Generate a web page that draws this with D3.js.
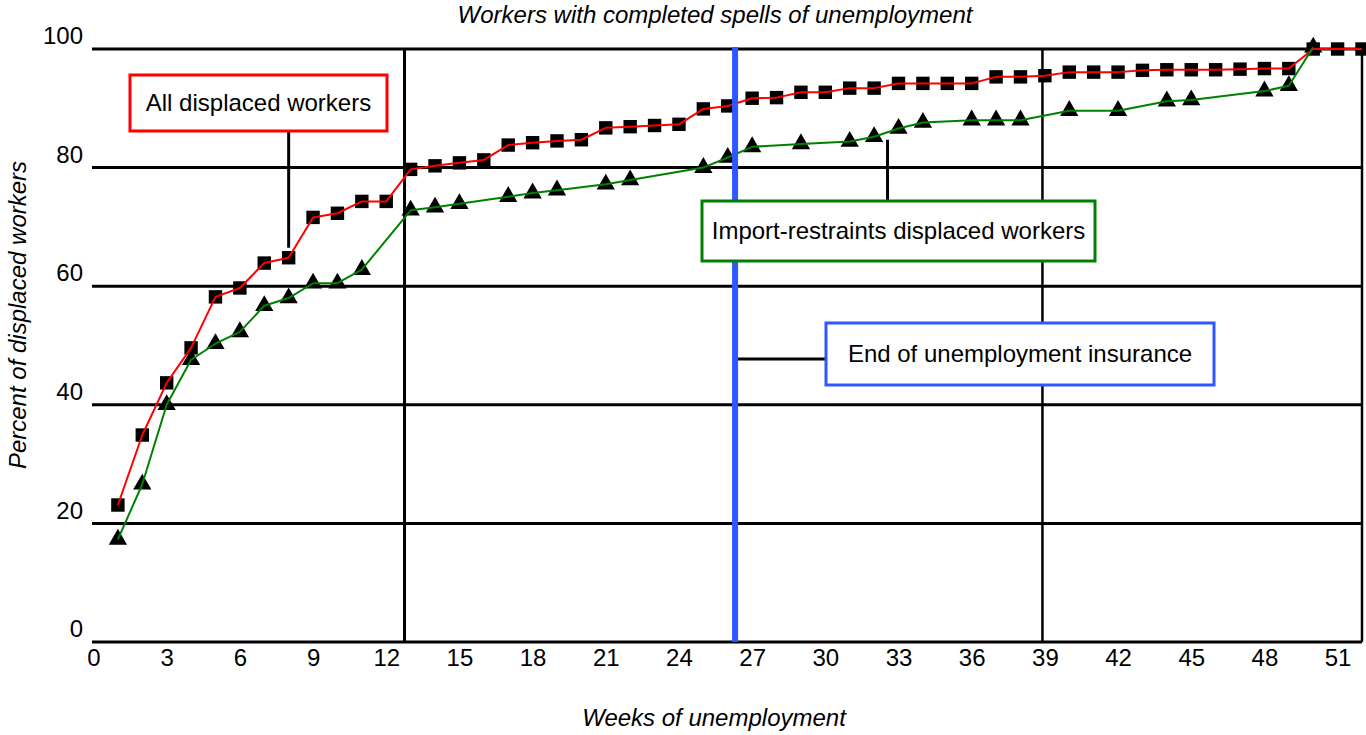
<!DOCTYPE html>
<html>
<head>
<meta charset="utf-8">
<script src="https://cdn.jsdelivr.net/npm/d3@7"></script>
<style>
  body { margin: 0; background: #fff; }
  svg { display: block; font-family: "Liberation Sans", Arial, Helvetica, sans-serif; }
</style>
</head>
<body>
<svg id="chart" width="1366" height="735"></svg>
<script>
// All displaced workers, cumulative percent by week
const allWeeks = [1, 2, 3, 4, 5, 6, 7, 8, 9, 10, 11, 12, 13, 14, 15, 16, 17, 18, 19, 20, 21, 22, 23, 24, 25, 26,
    27, 28, 29, 30, 31, 32, 33, 34, 35, 36, 37, 38, 39, 40, 41, 42, 43, 44, 45, 46, 47, 48, 49, 50, 51, 52];
const allValues = [23.1, 34.9, 43.7, 49.6, 58.2, 59.7, 63.9, 64.8, 71.6, 72.3, 74.3, 74.3, 79.7, 80.3, 80.8, 81.3,
    83.8, 84.2, 84.5, 84.7, 86.7, 86.9, 87.1, 87.3, 89.9, 90.4, 91.7, 91.8, 92.7, 92.7, 93.4, 93.4, 94.2, 94.2,
    94.2, 94.2, 95.3, 95.3, 95.5, 96.1, 96.1, 96.1, 96.4, 96.5, 96.5, 96.5, 96.6, 96.7, 96.7, 100, 100, 100];

// Import-restraints displaced workers (not every week has a point)
const importWeeks = [1, 2, 3, 4, 5, 6, 7, 8, 9, 10, 11, 13, 14, 15, 17, 18, 19, 21, 22, 25, 26, 27, 29, 31, 32,
    33, 34, 36, 37, 38, 40, 42, 44, 45, 48, 49, 50];
const importValues = [17.3, 26.6, 40.0, 47.6, 50.3, 52.3, 56.7, 58.0, 60.5, 60.5, 62.8, 72.8, 73.3, 73.9, 75.1,
    75.7, 76.2, 77.2, 77.9, 80.0, 81.7, 83.5, 84.0, 84.4, 85.2, 86.6, 87.6, 88.0, 88.0, 88.0, 89.6, 89.6, 91.2,
    91.4, 92.9, 93.8, 100.3];

const xTicks = [0, 3, 6, 9, 12, 15, 18, 21, 24, 27, 30, 33, 36, 39, 42, 45, 48, 51];
const yTicks = [0, 20, 40, 60, 80, 100];
const ruleWeeks = [12.75, 38.9, 52];   // black vertical rules
const uiEndWeek = 26.3;                // end of unemployment insurance

const svg = d3.select("#chart");
const x = d3.scaleLinear().domain([0, 52]).range([93.5, 1362]);
const y = d3.scaleLinear().domain([0, 100]).range([642, 49]);
const left = x(0) - 1.5;

// horizontal grid lines
svg.append("g").selectAll("line")
    .data(yTicks)
    .join("line")
    .attr("x1", left).attr("x2", x(52))
    .attr("y1", d => y(d)).attr("y2", d => y(d))
    .attr("stroke", "#000").attr("stroke-width", 3);

// vertical rules
svg.append("g").selectAll("line")
    .data(ruleWeeks)
    .join("line")
    .attr("x1", d => x(d)).attr("x2", d => x(d))
    .attr("y1", y(100)).attr("y2", y(0))
    .attr("stroke", "#000").attr("stroke-width", (d, i) => i === 0 ? 3 : 2.5);

// axes (labels only)
const xAxis = svg.append("g")
    .attr("transform", `translate(0, ${y(0)})`)
    .call(d3.axisBottom(x).tickValues(xTicks).tickSize(0).tickPadding(7));
xAxis.select(".domain").remove();
xAxis.attr("font-family", null).attr("font-size", 24);
xAxis.selectAll("text").attr("fill", "#000");

const yAxis = svg.append("g")
    .attr("transform", `translate(${left}, 0)`)
    .call(d3.axisLeft(y).tickValues(yTicks).tickSize(0).tickPadding(9));
yAxis.select(".domain").remove();
yAxis.attr("font-family", null).attr("font-size", 24);
yAxis.selectAll("text").attr("fill", "#000").attr("dy", "-0.22em");

// series
const allData = allWeeks.map((w, i) => ({week: w, value: allValues[i]}));
const importData = importWeeks.map((w, i) => ({week: w, value: importValues[i]}));

const square = d3.symbol().type(d3.symbolSquare).size(180);
const triangle = d3.symbol().type(d3.symbolTriangle).size(145);

svg.append("g").selectAll("path")
    .data(allData)
    .join("path")
    .attr("transform", d => `translate(${x(d.week)}, ${y(d.value)})`)
    .attr("d", square)
    .attr("fill", "#000");

svg.append("g").selectAll("path")
    .data(importData)
    .join("path")
    .attr("transform", d => `translate(${x(d.week)}, ${y(d.value)})`)
    .attr("d", triangle)
    .attr("fill", "#000");

const line = d3.line()
    .x(d => x(d.week))
    .y(d => y(d.value));

svg.append("path").datum(allData)
    .attr("d", line).attr("fill", "none")
    .attr("stroke", "#ff0000").attr("stroke-width", 2).attr("stroke-linejoin", "round");

svg.append("path").datum(importData)
    .attr("d", line).attr("fill", "none")
    .attr("stroke", "#008000").attr("stroke-width", 2).attr("stroke-linejoin", "round");

// end of UI rule
svg.append("line")
    .attr("x1", x(uiEndWeek)).attr("x2", x(uiEndWeek))
    .attr("y1", y(100) - 2).attr("y2", y(0))
    .attr("stroke", "#2f57ff").attr("stroke-width", 6);

// callout boxes
function callout(box, text, color) {
    svg.append("rect")
        .attr("x", box[0]).attr("y", box[1])
        .attr("width", box[2]).attr("height", box[3])
        .attr("fill", "#fff").attr("stroke", color).attr("stroke-width", 3);
    svg.append("text")
        .attr("x", box[0] + box[2] / 2).attr("y", box[1] + box[3] / 2)
        .attr("dy", "0.35em").attr("text-anchor", "middle")
        .attr("font-size", 24).attr("fill", "#000")
        .text(text);
}

// connectors
svg.append("line")
    .attr("x1", x(8)).attr("x2", x(8))
    .attr("y1", 131).attr("y2", y(64.8) - 10)
    .attr("stroke", "#000").attr("stroke-width", 3);
svg.append("line")
    .attr("x1", x(32.55)).attr("x2", x(32.55))
    .attr("y1", y(85.2) + 3).attr("y2", 201)
    .attr("stroke", "#000").attr("stroke-width", 3);
svg.append("line")
    .attr("x1", x(uiEndWeek) + 3).attr("x2", 826)
    .attr("y1", 359).attr("y2", 359)
    .attr("stroke", "#000").attr("stroke-width", 3);

callout([130, 75, 257, 56], "All displaced workers", "#ff0000");
callout([702, 201, 393, 60], "Import-restraints displaced workers", "#008000");
callout([826, 323, 388, 62], "End of unemployment insurance", "#2f57ff");

// titles
svg.append("text")
    .attr("x", 715).attr("y", 23)
    .attr("text-anchor", "middle").attr("font-style", "italic").attr("font-size", 24)
    .text("Workers with completed spells of unemployment");

svg.append("text")
    .attr("x", 714).attr("y", 726)
    .attr("text-anchor", "middle").attr("font-style", "italic").attr("font-size", 24)
    .text("Weeks of unemployment");

svg.append("text")
    .attr("transform", "translate(26, 315) rotate(-90)")
    .attr("text-anchor", "middle").attr("font-style", "italic").attr("font-size", 24)
    .text("Percent of displaced workers");
</script>
</body>
</html>
